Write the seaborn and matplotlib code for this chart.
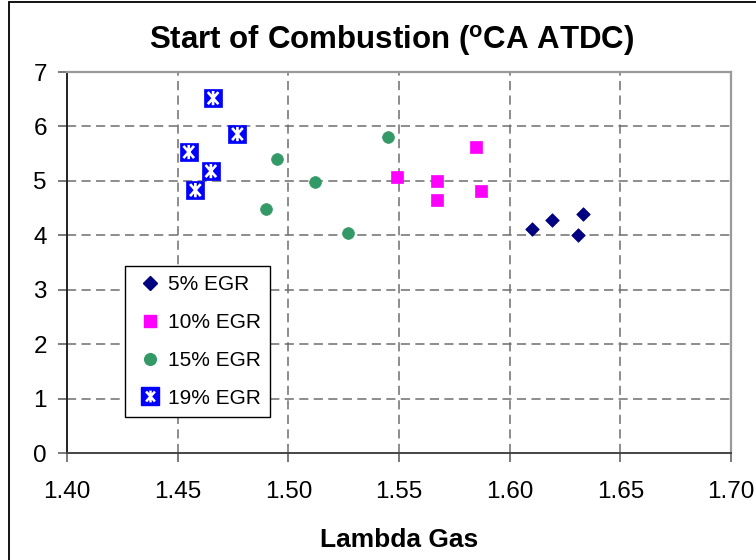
import numpy as np
import pandas as pd
import matplotlib
matplotlib.use("Agg")
import matplotlib.pyplot as plt
import seaborn as sns
from matplotlib.lines import Line2D
from matplotlib.path import Path
from matplotlib.patches import Rectangle
from matplotlib.legend_handler import HandlerTuple

# Start of combustion vs. lambda for each EGR level
lambda_5 = [1.610, 1.619, 1.633, 1.631]
soc_5 = [4.11, 4.29, 4.40, 4.00]

lambda_10 = [1.549, 1.567, 1.567, 1.585, 1.587]
soc_10 = [5.08, 5.00, 4.64, 5.63, 4.82]

lambda_15 = [1.545, 1.495, 1.512, 1.490, 1.527]
soc_15 = [5.81, 5.40, 4.97, 4.49, 4.05]

lambda_19 = [1.466, 1.477, 1.455, 1.465, 1.458]
soc_19 = [6.52, 5.86, 5.53, 5.18, 4.83]

series_labels = ["5% EGR", "10% EGR", "15% EGR", "19% EGR"]
x_ticks = [1.40, 1.45, 1.50, 1.55, 1.60, 1.65, 1.70]
y_ticks = [0, 1, 2, 3, 4, 5, 6, 7]

sns.set_theme(style="white")
plt.rcParams["font.family"] = ["Liberation Sans", "DejaVu Sans"]
plt.rcParams["text.color"] = "black"
plt.rcParams["axes.labelcolor"] = "black"
plt.rcParams["xtick.color"] = "black"
plt.rcParams["ytick.color"] = "black"

fig = plt.figure(figsize=(7.56, 5.6), dpi=100)
ax = fig.add_axes([67 / 756, 1 - 453 / 560, (731 - 67) / 756, (453 - 72) / 560])

# asterisk glyph drawn over the blue squares
ast_path = Path(
    [(0, -1), (0, 1), (-0.75, -0.85), (0.75, 0.85), (-0.75, 0.85), (0.75, -0.85)],
    [Path.MOVETO, Path.LINETO, Path.MOVETO, Path.LINETO, Path.MOVETO, Path.LINETO],
)

grid_kw = dict(color="#6e6e6e", linestyle=(0, (6, 3.5)), linewidth=1.1)
for xv in x_ticks[1:-1]:
    ax.axvline(xv, zorder=0, **grid_kw)
for yv in y_ticks[1:-1]:
    ax.axhline(yv, zorder=0, **grid_kw)

sns.scatterplot(x=lambda_5, y=soc_5, marker="D", s=48, color="#000080",
                edgecolor="#000080", linewidth=0.5, ax=ax, zorder=3)
sns.scatterplot(x=lambda_10, y=soc_10, marker="s", s=70, color="#ff00ff",
                edgecolor="#ff00ff", linewidth=0.5, ax=ax, zorder=3)
sns.scatterplot(x=lambda_15, y=soc_15, marker="o", s=72, color="#339966",
                edgecolor="#339966", linewidth=0.5, ax=ax, zorder=3)
sns.scatterplot(x=lambda_19, y=soc_19, marker="s", s=165, color="#0000ff",
                edgecolor="#0000ff", linewidth=0.5, ax=ax, zorder=3)
ax.scatter(lambda_19, soc_19, marker=ast_path, s=105, facecolors="none",
           edgecolors="white", linewidths=1.9, zorder=4)

ax.set_xlim(1.40, 1.70)
ax.set_ylim(0, 7)
ax.set_xticks(x_ticks)
ax.set_xticklabels([f"{v:.2f}" for v in x_ticks])
ax.set_yticks(y_ticks)
ax.set_yticklabels([str(v) for v in y_ticks])
ax.tick_params(axis="x", labelsize=17.5, direction="out", length=6.5,
               width=1.1, color="#555555", labelcolor="black", pad=14,
               bottom=True)
ax.tick_params(axis="y", labelsize=17.5, direction="out", length=6.5,
               width=1.1, color="#555555", labelcolor="black", pad=8,
               left=True)

ax.spines["left"].set_color("#222222")
ax.spines["left"].set_linewidth(1.4)
ax.spines["bottom"].set_color("#444444")
ax.spines["bottom"].set_linewidth(1.4)
ax.spines["top"].set_color("#9a9a9a")
ax.spines["top"].set_linewidth(1.6)
ax.spines["right"].set_color("#9a9a9a")
ax.spines["right"].set_linewidth(1.6)

ax.set_xlabel("Lambda Gas", fontsize=19, fontweight="bold", labelpad=18,
              color="black")
ax.set_ylabel("")

fig.text(392 / 756, 1 - 41 / 560, "Start of Combustion ($\\mathregular{^o}$CA ATDC)",
         ha="center", va="center", fontsize=22.5, fontweight="bold",
         color="black")

# legend
h5 = Line2D([], [], linestyle="none", marker="D", markersize=7.5,
            color="#000080")
h10 = Line2D([], [], linestyle="none", marker="s", markersize=8.2,
             color="#ff00ff")
h15 = Line2D([], [], linestyle="none", marker="o", markersize=8.4,
             color="#339966")
h19a = Line2D([], [], linestyle="none", marker="s", markersize=12.5,
              color="#0000ff")
h19b = Line2D([], [], linestyle="none", marker=ast_path, markersize=8.5,
              markerfacecolor="none", markeredgecolor="white",
              markeredgewidth=1.8)
leg = ax.legend([h5, h10, h15, (h19a, h19b)], series_labels,
                handler_map={tuple: HandlerTuple(ndivide=1)},
                loc="upper left", bbox_to_anchor=(58 / 664, (453 - 266) / 381),
                fontsize=15, frameon=True, fancybox=False, framealpha=1,
                edgecolor="black", handlelength=1.5, handletextpad=0.1,
                labelspacing=0.9, borderpad=0.45, borderaxespad=0)
leg.get_frame().set_linewidth(1.0)
leg.set_zorder(5)
for t in leg.get_texts():
    t.set_color("black")

# outer chart border
fig.patches.append(Rectangle((9 / 756, -0.05), 1.2, 1 - 2 / 560 + 0.05,
                             transform=fig.transFigure, fill=False,
                             edgecolor="black", linewidth=1.3, zorder=10))

fig.savefig("out.png", dpi=100, facecolor="white")
